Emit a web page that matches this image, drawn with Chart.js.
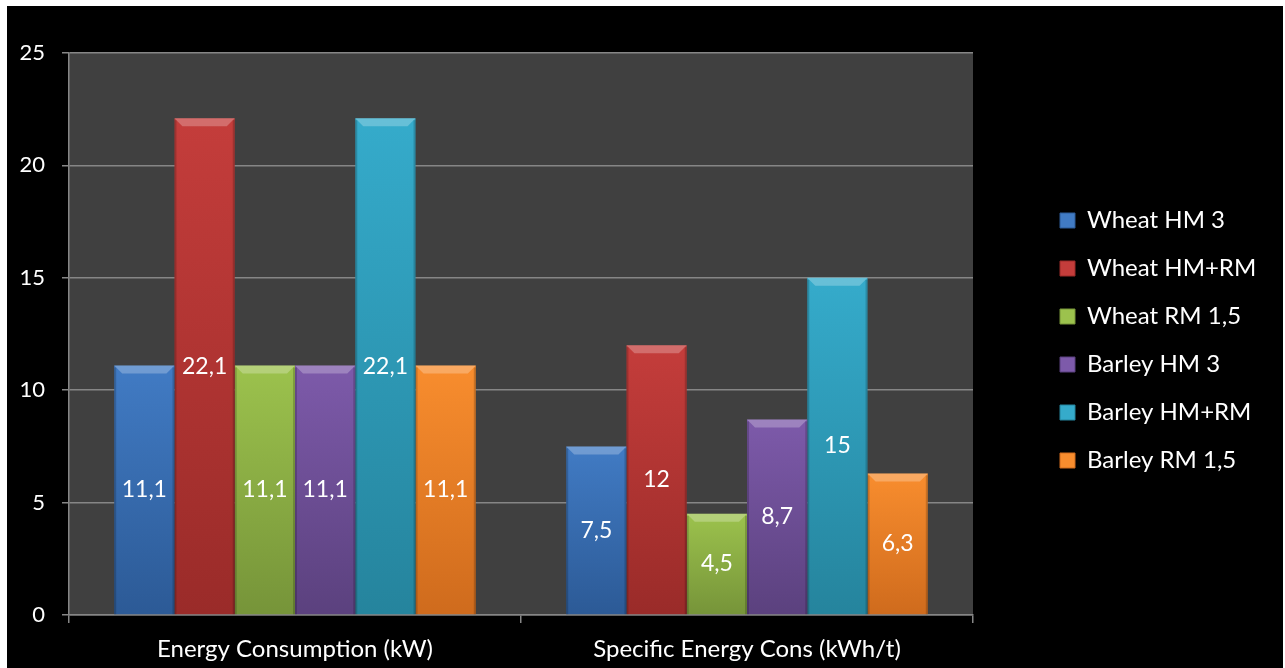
<!DOCTYPE html>
<html lang="en">
<head>
<meta charset="UTF-8">
<title>Energy Consumption - Wheat and Barley</title>
<script src="https://cdn.jsdelivr.net/npm/chart.js"></script>
<style>
  body { margin: 0; background: #fff; }
  .wrap { position: absolute; left: 7px; top: 6px; width: 1276px; height: 662px; background: #000; }
</style>
</head>
<body>
<div class="wrap"><canvas id="energyChart"></canvas></div>
<script>
    // data
    const categories = ['Energy Consumption (kW)', 'Specific Energy Cons (kWh/t)'];
    const seriesNames = ['Wheat HM 3', 'Wheat HM+RM', 'Wheat RM 1,5', 'Barley HM 3', 'Barley HM+RM', 'Barley RM 1,5'];
    const wheatHM3 = [11.1, 7.5];
    const wheatHMRM = [22.1, 12];
    const wheatRM15 = [11.1, 4.5];
    const barleyHM3 = [11.1, 8.7];
    const barleyHMRM = [22.1, 15];
    const barleyRM15 = [11.1, 6.3];
    const yMin = 0, yMax = 25, yStep = 5;

    // top / bottom shades per series
    const shades = [
        ['#417bc4', '#2c5a96'],
        ['#c43d3b', '#9a2b29'],
        ['#9cc24d', '#769439'],
        ['#7d5aaa', '#5b417e'],
        ['#35abcb', '#25849d'],
        ['#f88d2e', '#cf6b1d']
    ];

    Chart.defaults.font.family = 'Lato';
    Chart.defaults.color = '#ffffff';

    function barFill(i) {
        return function(c) {
            const ch = c.chart;
            if (!ch.chartArea || c.raw === undefined) return shades[i][0];
            const top = ch.scales.y.getPixelForValue(c.raw);
            const bot = ch.scales.y.getPixelForValue(0);
            const g = ch.ctx.createLinearGradient(0, top, 0, bot);
            g.addColorStop(0, shades[i][0]);
            g.addColorStop(1, shades[i][1]);
            return g;
        };
    }

    const series = [wheatHM3, wheatHMRM, wheatRM15, barleyHM3, barleyHMRM, barleyRM15];
    const datasets = series.map((vals, i) => ({
        label: seriesNames[i],
        data: vals,
        backgroundColor: barFill(i),
        borderWidth: 0,
        barPercentage: 1.0,
        categoryPercentage: 0.8
    }));

    // grey plot background
    const plotBg = {
        id: 'plotBg',
        beforeDraw(chart) {
            const a = chart.chartArea;
            chart.ctx.save();
            chart.ctx.fillStyle = '#404040';
            chart.ctx.fillRect(a.left, a.top, a.right - a.left, a.bottom - a.top);
            chart.ctx.restore();
        }
    };

    // legend: fixed box width, then moved to where the original puts it
    const legendPlace = {
        id: 'legendPlace',
        beforeInit(chart) {
            const lg = chart.legend;
            const fit = lg.fit;
            lg.fit = function() { fit.call(this); this.width = 310; };
        },
        afterLayout(chart) {
            const lg = chart.legend;
            lg.left += 63; lg.right += 63;
            lg.top -= 20; lg.bottom -= 20;
        }
    };

    // bevel + value labels on the bars
    const barFinish = {
        id: 'barFinish',
        afterDatasetsDraw(chart) {
            const ctx = chart.ctx;
            chart.data.datasets.forEach((ds, i) => {
                chart.getDatasetMeta(i).data.forEach((bar, j) => {
                    const p = bar.getProps(['x', 'y', 'base', 'width'], true);
                    const l = p.x - p.width / 2, r = p.x + p.width / 2, b = 8;
                    ctx.save();
                    ctx.fillStyle = 'rgba(255,255,255,0.25)';
                    ctx.beginPath();
                    ctx.moveTo(l, p.y); ctx.lineTo(r, p.y);
                    ctx.lineTo(r - b, p.y + b); ctx.lineTo(l + b, p.y + b);
                    ctx.closePath(); ctx.fill();
                    ctx.fillStyle = 'rgba(0,0,0,0.18)';
                    ctx.fillRect(l, p.y + 2, 2, p.base - p.y - 2);
                    ctx.fillRect(r - 2, p.y + 2, 2, p.base - p.y - 2);
                    ctx.fillStyle = '#ffffff';
                    ctx.font = '23px Lato';
                    ctx.textAlign = 'center';
                    ctx.textBaseline = 'middle';
                    ctx.fillText(String(ds.data[j]).replace('.', ','), p.x, (p.y + p.base) / 2);
                    ctx.restore();
                });
            });
        }
    };

    new Chart(document.getElementById('energyChart'), {
        type: 'bar',
        data: { labels: categories, datasets: datasets },
        options: {
            responsive: true,
            maintainAspectRatio: false,
            animation: false,
            layout: { padding: { top: 47, right: 0, bottom: 0, left: 0 } },
            plugins: {
                tooltip: { enabled: false },
                legend: {
                    position: 'right',
                    labels: {
                        boxWidth: 15,
                        boxHeight: 15,
                        padding: 24,
                        color: '#ffffff',
                        font: { size: 24 },
                        generateLabels(chart) {
                            return chart.data.datasets.map((ds, i) => ({
                                text: ds.label,
                                fillStyle: shades[i][0],
                                strokeStyle: shades[i][1],
                                lineWidth: 1,
                                fontColor: '#ffffff',
                                datasetIndex: i,
                                hidden: false
                            }));
                        }
                    }
                }
            },
            scales: {
                x: {
                    grid: { drawOnChartArea: false, color: '#868686', lineWidth: 1.5, tickLength: 8 },
                    border: { color: '#868686', width: 1.5 },
                    ticks: { font: { size: 24 }, color: '#ffffff', padding: 12 },
                    afterFit(s) { s.height = 53; }
                },
                y: {
                    min: yMin,
                    max: yMax,
                    grid: { color: '#868686', lineWidth: 1.5, tickLength: 7 },
                    border: { color: '#868686', width: 1.5 },
                    ticks: { stepSize: yStep, font: { size: 22 }, color: '#ffffff', padding: 17 },
                    afterFit(s) { s.width = 62; }
                }
            }
        },
        plugins: [plotBg, legendPlace, barFinish]
    });
</script>
</body>
</html>
